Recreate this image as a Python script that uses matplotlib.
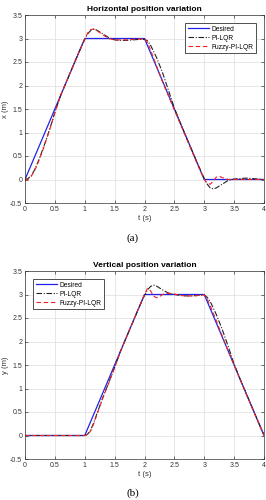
import numpy as np
import matplotlib
matplotlib.use("Agg")
from matplotlib import pyplot as plt

plt.rcParams['font.family'] = ['Liberation Sans', 'DejaVu Sans']

# horizontal position (t, x)
t_des_x = [0, 1, 2, 3, 4]
x_des = [0, 3, 3, 0, 0]

t_pi_x = [0, 0.05, 0.1, 0.15, 0.2, 0.25, 0.3, 0.35, 0.4, 0.45, 0.5, 0.6, 0.7, 0.8, 0.9,
          1.0, 1.05, 1.1, 1.15, 1.2, 1.3, 1.4, 1.5, 1.6, 1.7, 1.8, 1.9, 2.0, 2.05, 2.1,
          2.2, 2.3, 2.4, 2.5, 2.6, 2.7, 2.8, 2.9, 3.0, 3.05, 3.1, 3.15, 3.2, 3.3, 3.4,
          3.5, 3.6, 3.7, 3.8, 3.9, 4.0]
x_pi = [0, 0.02, 0.08, 0.18, 0.32, 0.48, 0.65, 0.83, 1.02, 1.22, 1.43, 1.8, 2.1, 2.4, 2.7,
        2.98, 3.1, 3.17, 3.2, 3.18, 3.1, 3.02, 2.97, 2.96, 2.96, 2.97, 2.98, 2.98, 2.95, 2.86,
        2.6, 2.28, 1.9, 1.52, 1.2, 0.9, 0.6, 0.3, 0.02, -0.1, -0.18, -0.2, -0.18, -0.1, -0.02,
        0.01, 0.02, 0.03, 0.02, 0.01, 0.0]

t_fz_x = [0, 0.05, 0.1, 0.15, 0.2, 0.25, 0.3, 0.35, 0.4, 0.45, 0.5, 0.6, 0.7, 0.8, 0.9,
          1.0, 1.05, 1.1, 1.15, 1.2, 1.3, 1.4, 1.5, 1.6, 1.7, 1.8, 1.9, 2.0, 2.05, 2.1,
          2.2, 2.3, 2.4, 2.5, 2.6, 2.7, 2.8, 2.9, 3.0, 3.05, 3.1, 3.15, 3.2, 3.25, 3.3,
          3.4, 3.6, 3.8, 4.0]
x_fz = [-0.02, 0.0, 0.06, 0.16, 0.3, 0.46, 0.63, 0.82, 1.01, 1.21, 1.42, 1.8, 2.1, 2.4, 2.7,
        2.99, 3.12, 3.19, 3.2, 3.17, 3.08, 3.0, 2.97, 2.97, 2.97, 2.98, 2.99, 2.99, 2.92, 2.76,
        2.42, 2.08, 1.78, 1.48, 1.18, 0.88, 0.58, 0.28, 0.0, -0.08, -0.1, -0.04, 0.05, 0.07, 0.04,
        0.0, 0.0, 0.0, 0.0]

# vertical position (t, y)
t_des_y = [0, 1, 2, 3, 4]
y_des = [0, 0, 3, 3, 0]

t_pi_y = [0, 1.0, 1.05, 1.1, 1.15, 1.2, 1.3, 1.4, 1.5, 1.6, 1.7, 1.8, 1.9, 2.0, 2.05,
          2.1, 2.15, 2.2, 2.3, 2.4, 2.5, 2.6, 2.7, 2.8, 2.9, 3.0, 3.05, 3.1, 3.2, 3.3,
          3.4, 3.5, 3.6, 3.7, 3.8, 3.9, 4.0]
y_pi = [0, 0, 0.03, 0.12, 0.27, 0.45, 0.8, 1.12, 1.45, 1.8, 2.1, 2.4, 2.7, 2.98, 3.1,
        3.17, 3.2, 3.18, 3.1, 3.03, 3.0, 2.98, 2.97, 2.97, 2.98, 2.99, 2.94, 2.85, 2.58, 2.26,
        1.9, 1.52, 1.2, 0.9, 0.6, 0.3, 0.02]

t_fz_y = [0, 1.0, 1.05, 1.1, 1.15, 1.2, 1.3, 1.4, 1.5, 1.6, 1.7, 1.8, 1.9, 2.0, 2.05,
          2.1, 2.15, 2.2, 2.25, 2.3, 2.4, 2.5, 2.6, 2.7, 2.8, 2.9, 3.0, 3.05, 3.1, 3.2,
          3.3, 3.4, 3.5, 3.6, 3.7, 3.8, 3.9, 4.0]
y_fz = [0, 0, 0.02, 0.1, 0.25, 0.43, 0.79, 1.11, 1.44, 1.79, 2.1, 2.4, 2.7, 3.0, 3.13,
        3.08, 2.97, 2.93, 2.95, 3.0, 3.03, 3.01, 2.98, 2.97, 2.97, 2.98, 2.99, 2.9, 2.76, 2.45,
        2.12, 1.8, 1.5, 1.19, 0.89, 0.59, 0.29, 0.0]

x_ticks = [0, 0.5, 1, 1.5, 2, 2.5, 3, 3.5, 4]
y_ticks = [-0.5, 0, 0.5, 1, 1.5, 2, 2.5, 3, 3.5]
tick_fmt = lambda v: ("%g" % v)

fig = plt.figure(figsize=(2.66, 5.0), dpi=100)
ax1 = fig.add_axes([25 / 266, 1 - 203 / 500, 239 / 266, 188 / 500])
ax2 = fig.add_axes([25 / 266, 1 - 459 / 500, 239 / 266, 188 / 500])

panels = [
    (ax1, "Horizontal position variation", "x (m)",
     (t_des_x, x_des), (t_pi_x, x_pi), (t_fz_x, x_fz), "upper right", "(a)", 238),
    (ax2, "Vertical position variation", "y (m)",
     (t_des_y, y_des), (t_pi_y, y_pi), (t_fz_y, y_fz), "upper left", "(b)", 493),
]

for ax, title, ylab, des, pi, fz, loc, cap, cap_y in panels:
    ax.plot(des[0], des[1], color="#2222ee", lw=0.9, label="Desired")
    ax.plot(pi[0], pi[1], color="#222222", lw=0.8, ls=(0, (5, 1.5, 1, 1.5)), label="PI-LQR")
    ax.plot(fz[0], fz[1], color="#ee2222", lw=0.8, ls=(0, (4, 2.5)), label="Fuzzy-PI-LQR")
    ax.set_xlim(0, 4)
    ax.set_ylim(-0.5, 3.5)
    ax.set_xticks(x_ticks)
    ax.set_yticks(y_ticks)
    ax.set_xticklabels([tick_fmt(v) for v in x_ticks])
    ax.set_yticklabels([tick_fmt(v) for v in y_ticks])
    ax.tick_params(direction="in", length=2, width=0.5, labelsize=5, pad=2,
                   top=True, right=True, colors="#333333")
    ax.grid(True, color="#dddddd", lw=0.5)
    for s in ax.spines.values():
        s.set_linewidth(0.5)
        s.set_color("#333333")
    ax.set_title(title, fontsize=6, fontweight="bold", pad=3)
    ax.set_xlabel("t (s)", fontsize=5.5, labelpad=1.5, color="#333333")
    ax.set_ylabel(ylab, fontsize=5.5, labelpad=1, color="#333333")
    leg = ax.legend(loc=loc, fontsize=4.8, fancybox=False, framealpha=1,
                    edgecolor="#333333", handlelength=3.2, borderpad=0.4,
                    labelspacing=0.3, handletextpad=0.3, borderaxespad=1.2)
    leg.get_frame().set_linewidth(0.6)
    fig.text(0.5, 1 - cap_y / 500, cap, ha="center", va="center",
             fontsize=8, family="Liberation Serif")

fig.savefig("out.png", dpi=100)
